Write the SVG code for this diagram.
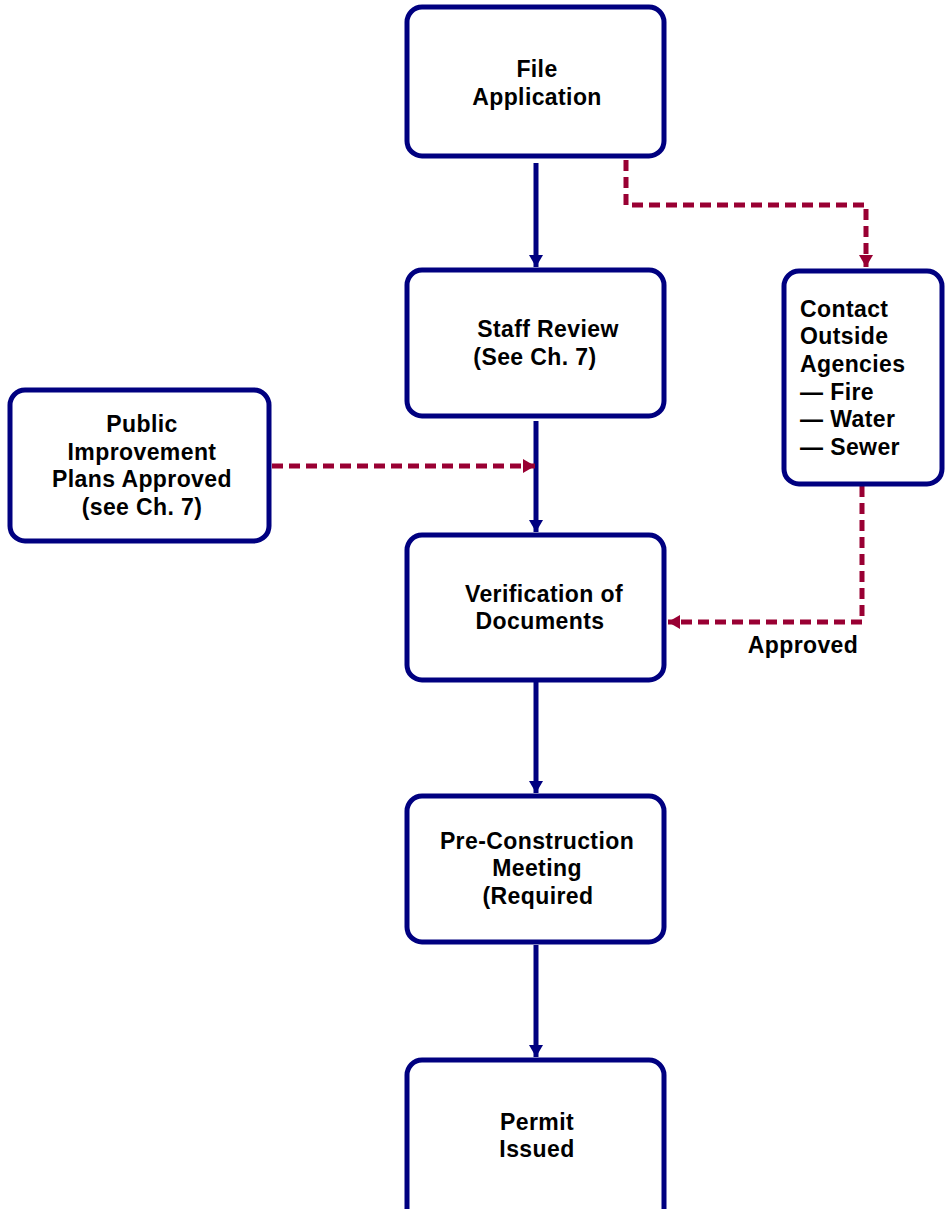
<svg xmlns="http://www.w3.org/2000/svg" width="945" height="1209" viewBox="0 0 945 1209">
<style>
.box{fill:#fff;stroke:#000080;stroke-width:5}
.t{font-family:"Liberation Sans",Arial,sans-serif;font-weight:bold;font-size:23px;fill:#000;letter-spacing:0.4px}
.c{text-anchor:middle}
.solid{stroke:#000080;stroke-width:5;fill:none}
.dash{stroke:#990033;stroke-width:5;fill:none;stroke-dasharray:11 6}
</style>
<defs>
<marker id="ab" markerUnits="userSpaceOnUse" markerWidth="16" markerHeight="14" refX="12" refY="7" orient="auto">
<path d="M0,0 L12,7 L0,14 Z" fill="#000080"/>
</marker>
<marker id="ar" markerUnits="userSpaceOnUse" markerWidth="16" markerHeight="14" refX="12" refY="7" orient="auto">
<path d="M0,0 L12,7 L0,14 Z" fill="#990033"/>
</marker>
</defs>
<g id="connectors">
<path class="solid" d="M536,163 V267" marker-end="url(#ab)"/>
<path class="solid" d="M536,421 V532" marker-end="url(#ab)"/>
<path class="solid" d="M536,682 V793" marker-end="url(#ab)"/>
<path class="solid" d="M536,945 V1057" marker-end="url(#ab)"/>
<path class="dash" d="M626,160 V205 H866 V267" marker-end="url(#ar)"/>
<path class="dash" d="M272,466 H535" marker-end="url(#ar)"/>
<path class="dash" d="M862,486 V622 H668" marker-end="url(#ar)"/>
<text class="t c" x="803" y="653">Approved</text>
</g>
<g id="file">
<rect class="box" x="407" y="7" width="257" height="149" rx="15"/>
<text class="t c" x="537" y="77">File</text>
<text class="t c" x="537" y="105">Application</text>
</g>
<g id="staff">
<rect class="box" x="407" y="270" width="257" height="146" rx="15"/>
<text class="t c" x="548" y="337">Staff Review</text>
<text class="t c" x="535" y="365">(See Ch. 7)</text>
</g>
<g id="contact">
<rect class="box" x="784" y="271" width="158" height="213" rx="15"/>
<text class="t" x="800" y="317">Contact</text>
<text class="t" x="800" y="344">Outside</text>
<text class="t" x="800" y="372">Agencies</text>
<text class="t" x="800" y="400">— Fire</text>
<text class="t" x="800" y="427">— Water</text>
<text class="t" x="800" y="455">— Sewer</text>
</g>
<g id="public">
<rect class="box" x="10" y="390" width="259" height="151" rx="15"/>
<text class="t c" x="142" y="432">Public</text>
<text class="t c" x="142" y="460">Improvement</text>
<text class="t c" x="142" y="487">Plans Approved</text>
<text class="t c" x="142" y="515">(see Ch. 7)</text>
</g>
<g id="verification">
<rect class="box" x="407" y="535" width="257" height="145" rx="15"/>
<text class="t c" x="544" y="602">Verification of</text>
<text class="t c" x="540" y="629">Documents</text>
</g>
<g id="preconstruction">
<rect class="box" x="407" y="796" width="257" height="146" rx="15"/>
<text class="t c" x="537" y="849">Pre-Construction</text>
<text class="t c" x="537" y="876">Meeting</text>
<text class="t c" x="538" y="904">(Required</text>
</g>
<g id="permit">
<rect class="box" x="407" y="1060" width="257" height="165" rx="15"/>
<text class="t c" x="537" y="1130">Permit</text>
<text class="t c" x="537" y="1157">Issued</text>
</g>
</svg>
